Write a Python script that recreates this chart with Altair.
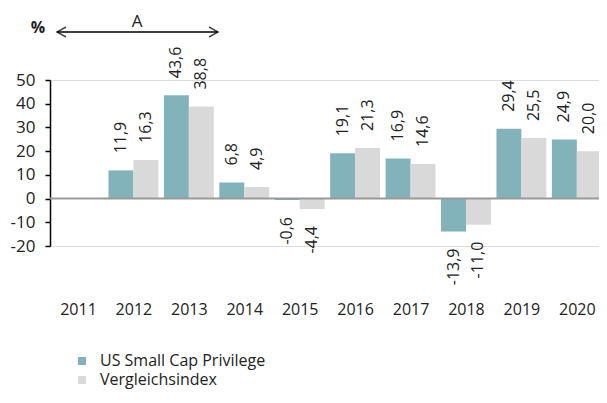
import altair as alt
import pandas as pd

years = [2011, 2012, 2013, 2014, 2015, 2016, 2017, 2018, 2019, 2020]
fund = [None, 11.9, 43.6, 6.8, -0.6, 19.1, 16.9, -13.9, 29.4, 24.9]
index = [None, 16.3, 38.8, 4.9, -4.4, 21.3, 14.6, -11.0, 25.5, 20.0]
series_names = ["US Small Cap Privilege", "Vergleichsindex"]
colors = ["#82b3ba", "#d9d9d9"]
y_ticks = [-20, -10, 0, 10, 20, 30, 40, 50]

rows = []
for i, yr in enumerate(years):
    for name, vals in zip(series_names, [fund, index]):
        v = vals[i]
        if v is None:
            continue
        rows.append({"year": yr, "series": name, "value": v,
                     "label": f"{v:.1f}".replace(".", ",")})
df = pd.DataFrame(rows)

FONT = "Open Sans"
BAR = 0.45  # width of one bar, in years

x_scale = alt.Scale(domain=[2010.495, 2020.40], nice=False, zero=False, padding=0)
x_axis = alt.Axis(title=None, values=years, format="d", labelAngle=0, ticks=False, domain=False,
                  grid=False, labelFlush=False, labelOverlap=False, labelPadding=55,
                  labelFontSize=16, labelFont=FONT, labelColor="#222")
y_enc = alt.Y("value:Q", scale=alt.Scale(domain=[-20, 50], nice=False, zero=False, padding=0),
              axis=alt.Axis(title=None, values=y_ticks, grid=False, domainColor="#000",
                            domainWidth=1.5, tickColor="#000", tickWidth=1.5, tickSize=5,
                            labelOverlap=False, labelExpr="datum.value",
                            labelPadding=10, labelFontSize=17, labelFont=FONT, labelColor="#222"))

base = alt.Chart(df).transform_calculate(
    x0=f"datum.year + (datum.series == '{series_names[0]}' ? -{BAR} : 0)"
).transform_calculate(
    x1=f"datum.x0 + {BAR}", xm=f"datum.x0 + {BAR / 2}"
)

bars = base.mark_bar(clip=True).encode(
    x=alt.X("x0:Q", scale=x_scale, axis=x_axis),
    x2="x1:Q",
    y=y_enc,
    y2=alt.datum(0),
    color=alt.Color("series:N", sort=series_names,
                    scale=alt.Scale(domain=series_names, range=colors),
                    legend=alt.Legend(title=None, orient="none", legendX=24, legendY=273,
                                      symbolType="square", symbolSize=64, symbolStrokeWidth=0,
                                      labelFontSize=16, labelFont=FONT, labelColor="#222",
                                      labelLimit=0, rowPadding=3, labelOffset=10)),
)

pos_labels = base.transform_filter("datum.value >= 0").mark_text(
    angle=270, align="left", baseline="middle", dx=17, fontSize=16, font=FONT, color="#222"
).encode(x=alt.X("xm:Q", scale=x_scale, axis=x_axis), y=y_enc, text="label:N")

neg_labels = base.transform_filter("datum.value < 0").mark_text(
    angle=270, align="right", baseline="middle", dx=-17, fontSize=16, font=FONT, color="#222"
).encode(x=alt.X("xm:Q", scale=x_scale, axis=x_axis), y=y_enc, text="label:N")

zero = alt.Chart(pd.DataFrame({"value": [0]})).mark_rule(color="#999", strokeWidth=2).encode(
    y=y_enc, x=alt.value(0), x2=alt.value(549))

one = pd.DataFrame({"a": [0]})
arrow_line = alt.Chart(one).mark_rule(color="#000", strokeWidth=1.5).encode(
    x=alt.value(7), x2=alt.value(168), y=alt.value(-48))
arrow_l = alt.Chart(one).mark_point(shape="M 1.8 -1 L 0 0 L 1.8 1", size=100, filled=False,
                                    color="#000", strokeWidth=1.5).encode(x=alt.value(7), y=alt.value(-48))
arrow_r = alt.Chart(one).mark_point(shape="M -1.8 -1 L 0 0 L -1.8 1", size=100, filled=False,
                                    color="#000", strokeWidth=1.5).encode(x=alt.value(168), y=alt.value(-48))
a_text = alt.Chart(one).mark_text(text="A", fontSize=17, font=FONT, color="#222").encode(
    x=alt.value(87), y=alt.value(-58))
pct = alt.Chart(one).mark_text(text="%", fontSize=16, font=FONT, fontWeight="bold", color="#222").encode(
    x=alt.value(-12), y=alt.value(-52))

chart = alt.layer(bars, zero, pos_labels, neg_labels, arrow_line, arrow_l, arrow_r, a_text, pct).properties(
    width=549, height=166,
    autosize=alt.AutoSizeParams(type="none"),
    padding={"left": 42, "top": 72, "right": 0, "bottom": 144},
).configure_view(stroke=None).configure(background="white")

chart.save("out.html", embed_options={"renderer": "svg", "actions": False})
